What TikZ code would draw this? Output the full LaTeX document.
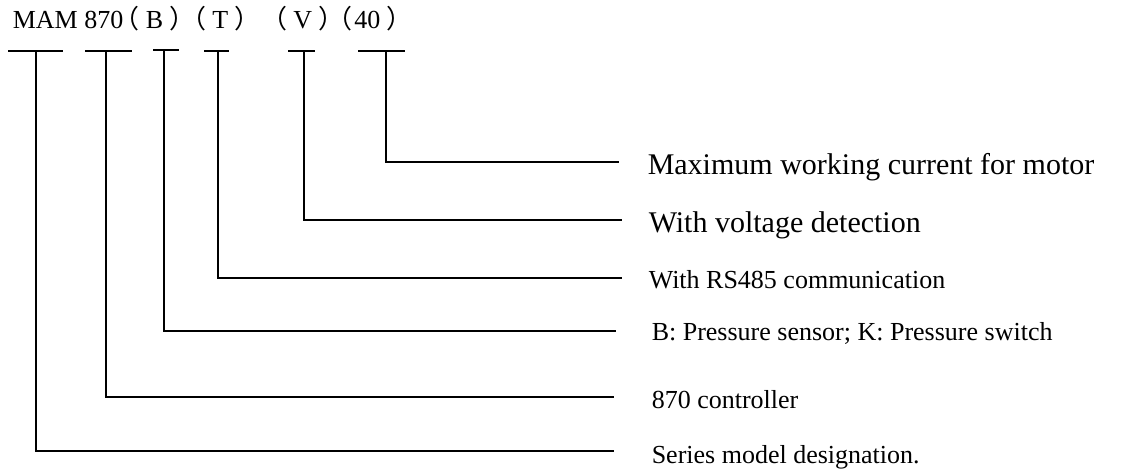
\documentclass[tikz,border=0pt]{standalone}
\usepackage{fontspec}
\setmainfont{Liberation Serif}
\newfontfamily\cjk[RawFeature=+halt]{Noto Sans CJK SC}
\newcommand{\lp}{{\cjk （}}
\newcommand{\rp}{{\cjk ）}}
\begin{document}
\begin{tikzpicture}[x=1pt,y=-1pt,line width=1.5pt,
  big/.style={font=\fontsize{30}{34}\selectfont, anchor=base west, inner sep=0pt},
  small/.style={font=\fontsize{26}{30}\selectfont, anchor=base west, inner sep=0pt},
  lead/.style={line width=1.5pt, line cap=rect}]
\useasboundingbox (0,0) rectangle (1137,473);
% model code
\node[small] (code) at (12,29) {MAM\kern6.7pt 870\kern2.8pt\lp\kern6.5pt B\kern6.5pt\rp\kern10.7pt\lp\kern6pt T\kern6pt\rp\kern27.1pt\lp\kern6pt V\kern6pt\rp\kern8.2pt\lp\kern2pt 40\kern6pt\rp};
% tops of the leaders
\coordinate (t1) at (36,51);
\coordinate (t2) at (106,51);
\coordinate (t3) at (164,50);
\coordinate (t4) at (218,51);
\coordinate (t5) at (304,51);
\coordinate (t6) at (386,51);
% ends of the leaders
\coordinate (e1) at (613,451);
\coordinate (e2) at (613,397);
\coordinate (e3) at (615,331);
\coordinate (e4) at (621,278);
\coordinate (e5) at (621,220);
\coordinate (e6) at (618,162);
% bars
\draw ([xshift=-28pt]t1) -- ([xshift=27pt]t1);
\draw ([xshift=-21pt]t2) -- ([xshift=26pt]t2);
\draw ([xshift=-11pt]t3) -- ([xshift=15pt]t3);
\draw ([xshift=-14pt]t4) -- ([xshift=11pt]t4);
\draw ([xshift=-16pt]t5) -- ([xshift=11pt]t5);
\draw ([xshift=-28pt]t6) -- ([xshift=19pt]t6);
% leaders
\foreach \i in {1,...,6} \draw[lead] (t\i) |- (e\i);
% labels
\node[big] (l6) at (647,175) {Maximum working current for motor};
\node[big] (l5) at (648,232) {With voltage detection};
\node[small] (l4) at (648,288) {With RS485 communication};
\node[small] (l3) at (651,340) {B: Pressure sensor; K: Pressure switch};
\node[small] (l2) at (651,408) {870 controller};
\node[small] (l1) at (651,463) {Series model designation.};
\end{tikzpicture}
\end{document}
